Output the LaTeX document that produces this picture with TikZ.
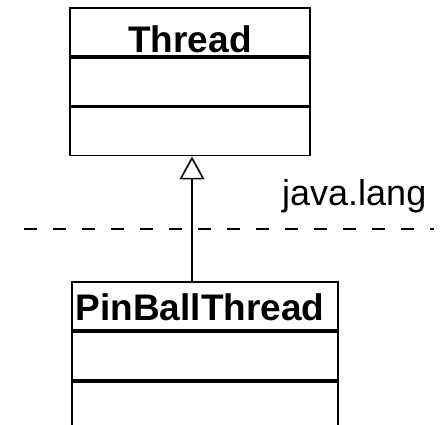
\documentclass[tikz,border=0pt]{standalone}
\usepackage{fontspec}
\setmainfont{Liberation Sans}
\usetikzlibrary{arrows.meta}
\begin{document}
\begin{tikzpicture}[x=1pt,y=-1pt,
  compartment/.style={draw=black,line width=1.8pt,rectangle,inner sep=0pt,minimum height=48pt},
  classname/.style={font=\fontsize{37}{40}\selectfont\bfseries,anchor=base,inner sep=0pt},
  pkglabel/.style={font=\fontsize{36}{40}\selectfont,anchor=base west,inner sep=0pt},
  inherit/.style={line width=1.6pt,-{Triangle[open,width=25pt,length=23pt,line width=1.6pt]}},
  boundary/.style={line width=1.6pt,dash pattern=on 13pt off 16pt}]
  \useasboundingbox (0,0) rectangle (442,425);
  \fill[white] (0,0) rectangle (442,425);
  \clip (0,0) rectangle (442,425);

  % Thread class (java.lang): name, attribute and operation compartments
  \node[compartment,minimum width=240pt] (threadtop) at (190,32) {};
  \node[compartment,minimum width=240pt,anchor=north] (threadattr) at (threadtop.south) {};
  \node[compartment,minimum width=240pt,anchor=north] (threadops) at (threadattr.south) {};
  \node[classname] (threadname) at (190,53) {Thread};

  % package label and boundary
  \node[pkglabel] (pkg) at (282,205) {java.lang};
  \coordinate (dashL) at (24,229);
  \coordinate (dashR) at (434,229);
  \draw[boundary] (dashL) -- (dashR);

  % PinBallThread class
  \node[compartment,minimum width=266pt] (pinballtop) at (205,306) {};
  \node[compartment,minimum width=266pt,anchor=north] (pinballattr) at (pinballtop.south) {};
  \node[compartment,minimum width=266pt,anchor=north] (pinballops) at (pinballattr.south) {};
  \node[classname] (pinballname) at (200,320) {PinBallThread};

  % generalization
  \coordinate (tip) at ([xshift=2pt]threadops.south);
  \draw[inherit] (pinballtop.north -| tip) -- (tip);
\end{tikzpicture}
\end{document}
